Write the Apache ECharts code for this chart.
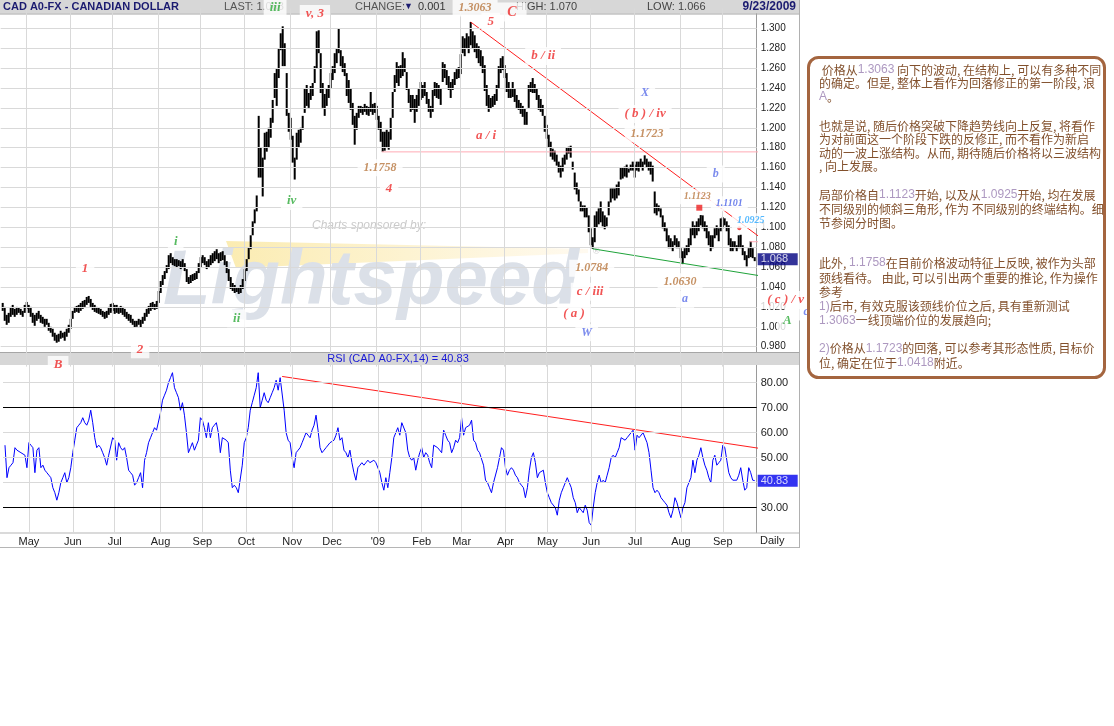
<!DOCTYPE html>
<html><head><meta charset="utf-8">
<script src="https://cdn.jsdelivr.net/npm/echarts@6/dist/echarts.min.js"></script>
<style>html,body{margin:0;padding:0;background:#fff}#c{width:1114px;height:726px}</style>
</head><body><div id="c"></div><script>
// ---- data: daily bars (trading-day index 0 = 2008-04-15 ... 376 = 2009-09-23)
const barLow=[1.016,1.006,1.002,1.004,1.010,1.012,1.010,1.012,1.014,1.012,
1.010,1.014,1.018,1.014,1.010,1.004,1.001,1.006,1.008,1.004,
1.003,1.000,1.002,0.996,0.994,0.990,0.986,0.984,0.985,0.988,
0.989,0.986,0.990,0.994,0.998,1.008,1.014,1.015,1.014,1.016,
1.018,1.020,1.022,1.024,1.020,1.017,1.015,1.014,1.013,1.012,
1.010,1.008,1.009,1.012,1.014,1.016,1.013,1.014,1.013,1.014,
1.012,1.010,1.008,1.006,1.004,1.002,0.999,1.000,1.002,0.999,
1.003,1.006,1.010,1.013,1.016,1.018,1.017,1.018,1.024,1.034,
1.042,1.048,1.054,1.058,1.064,1.062,1.061,1.060,1.061,1.058,
1.060,1.056,1.045,1.043,1.044,1.046,1.047,1.048,1.054,1.060,
1.064,1.062,1.058,1.060,1.062,1.064,1.066,1.068,1.064,1.066,
1.067,1.062,1.054,1.046,1.038,1.036,1.034,1.035,1.033,1.034,
1.038,1.046,1.056,1.068,1.078,1.092,1.104,1.116,1.150,1.150,
1.131,1.168,1.176,1.180,1.190,1.205,1.230,1.222,1.250,1.278,
1.262,1.262,1.212,1.196,1.188,1.165,1.148,1.168,1.180,1.185,
1.198,1.215,1.222,1.220,1.228,1.232,1.245,1.260,1.275,1.235,
1.220,1.212,1.222,1.230,1.240,1.248,1.255,1.265,1.275,1.262,
1.256,1.252,1.232,1.225,1.218,1.203,1.183,1.198,1.210,1.215,
1.213,1.216,1.213,1.212,1.216,1.213,1.215,1.208,1.198,1.186,
1.176,1.177,1.180,1.178,1.188,1.210,1.236,1.245,1.242,1.250,
1.252,1.256,1.238,1.225,1.216,1.218,1.205,1.216,1.222,1.228,
1.230,1.232,1.224,1.216,1.210,1.216,1.232,1.230,1.229,1.223,
1.246,1.250,1.243,1.238,1.230,1.238,1.243,1.249,1.250,1.254,
1.275,1.272,1.280,1.275,1.283,1.280,1.276,1.270,1.265,1.262,
1.255,1.237,1.222,1.216,1.219,1.221,1.223,1.227,1.240,1.255,
1.258,1.250,1.236,1.230,1.230,1.231,1.226,1.220,1.218,1.214,
1.211,1.203,1.203,1.220,1.236,1.235,1.235,1.228,1.218,1.216,
1.212,1.196,1.189,1.180,1.171,1.168,1.166,1.162,1.155,1.150,
1.156,1.163,1.168,1.174,1.170,1.158,1.138,1.133,1.126,1.116,
1.116,1.110,1.110,1.095,1.082,1.0784,1.085,1.100,1.103,1.105,
1.101,1.098,1.101,1.112,1.125,1.129,1.127,1.129,1.132,1.148,
1.149,1.151,1.150,1.155,1.157,1.157,1.150,1.157,1.156,1.160,
1.157,1.163,1.160,1.157,1.153,1.146,1.114,1.112,1.116,1.110,
1.099,1.096,1.086,1.079,1.079,1.076,1.082,1.079,1.079,1.069,
1.063,1.069,1.072,1.075,1.082,1.092,1.089,1.092,1.096,1.102,
1.099,1.096,1.089,1.082,1.076,1.079,1.089,1.092,1.086,1.096,
1.099,1.102,1.096,1.082,1.076,1.076,1.079,1.076,1.079,1.079,
1.072,1.067,1.0607,1.069,1.070,1.069,1.066];
const barHigh=[1.024,1.020,1.012,1.014,1.020,1.022,1.018,1.020,1.019,1.018,
1.016,1.022,1.025,1.022,1.020,1.014,1.012,1.014,1.016,1.012,
1.010,1.008,1.008,1.004,1.000,0.998,0.994,0.992,0.993,0.996,
0.994,0.995,0.998,1.002,1.008,1.016,1.020,1.021,1.022,1.024,
1.026,1.027,1.030,1.031,1.028,1.024,1.022,1.020,1.019,1.018,
1.016,1.015,1.016,1.020,1.023,1.024,1.022,1.022,1.020,1.021,
1.020,1.018,1.015,1.013,1.012,1.008,1.006,1.006,1.008,1.007,
1.010,1.014,1.018,1.021,1.024,1.025,1.023,1.026,1.036,1.046,
1.052,1.056,1.062,1.072,1.074,1.070,1.068,1.068,1.067,1.066,
1.068,1.064,1.058,1.050,1.052,1.053,1.054,1.056,1.064,1.070,
1.072,1.070,1.066,1.068,1.072,1.074,1.076,1.078,1.074,1.075,
1.076,1.072,1.066,1.058,1.050,1.044,1.042,1.040,1.040,1.042,
1.048,1.058,1.068,1.080,1.092,1.106,1.118,1.132,1.212,1.180,
1.170,1.195,1.196,1.200,1.210,1.228,1.255,1.260,1.280,1.295,
1.302,1.285,1.255,1.215,1.210,1.192,1.170,1.195,1.198,1.200,
1.212,1.240,1.243,1.235,1.242,1.245,1.262,1.297,1.298,1.275,
1.245,1.234,1.240,1.243,1.255,1.262,1.275,1.280,1.300,1.278,
1.272,1.265,1.255,1.248,1.240,1.225,1.212,1.215,1.222,1.222,
1.221,1.224,1.222,1.221,1.236,1.224,1.225,1.222,1.212,1.206,
1.196,1.196,1.198,1.196,1.210,1.236,1.253,1.266,1.262,1.263,
1.276,1.270,1.256,1.240,1.233,1.233,1.229,1.233,1.240,1.246,
1.243,1.246,1.236,1.229,1.222,1.238,1.246,1.245,1.243,1.240,
1.266,1.264,1.258,1.252,1.246,1.249,1.256,1.259,1.261,1.274,
1.292,1.290,1.295,1.292,1.3063,1.297,1.293,1.285,1.282,1.278,
1.272,1.263,1.243,1.233,1.230,1.232,1.234,1.243,1.262,1.270,
1.272,1.263,1.255,1.246,1.240,1.246,1.240,1.233,1.228,1.225,
1.222,1.219,1.216,1.243,1.246,1.250,1.244,1.240,1.233,1.229,
1.223,1.212,1.203,1.193,1.186,1.179,1.177,1.173,1.166,1.162,
1.170,1.173,1.180,1.181,1.182,1.166,1.155,1.145,1.138,1.126,
1.122,1.122,1.120,1.112,1.099,1.090,1.112,1.116,1.119,1.126,
1.116,1.112,1.110,1.126,1.139,1.139,1.139,1.143,1.146,1.160,
1.160,1.161,1.163,1.159,1.163,1.166,1.163,1.166,1.166,1.169,
1.166,1.1723,1.169,1.166,1.166,1.162,1.136,1.124,1.122,1.119,
1.112,1.105,1.099,1.092,1.089,1.086,1.092,1.089,1.086,1.079,
1.076,1.079,1.082,1.089,1.099,1.106,1.102,1.106,1.109,1.1123,
1.112,1.106,1.102,1.096,1.092,1.092,1.099,1.102,1.099,1.109,
1.1101,1.109,1.106,1.102,1.089,1.086,1.086,1.082,1.092,1.0925,
1.082,1.076,1.072,1.079,1.086,1.079,1.070];
const rsi=[55,42,46,47,48,54,53,53,52,52,
51,46,56,55,54,44,53,54,46,47,
45,44,43,42,38,36,33,36,40,42,
44,40,42,46,52,57,62,63,64,66,
64,63,65,69,64,58,54,55,54,52,
50,47,51,51,58,57,49,56,54,53,
54,50,45,44,43,39,40,42,44,38,
49,52,56,58,60,62,61,61,68,73,
75,77,80,82,84,78,76,74,69,72,
67,60,52,54,56,53,55,57,66,65,
62,58,64,58,62,63,64,60,52,58,
58,57,56,45,38,39,38,36,36,47,
56,58,62,69,72,75,78,84,70,73,
76,73,72,74,76,78,81,77,82,82,
69,60,57,56,50,46,52,53,54,56,
58,60,59,58,61,63,67,61,54,52,
53,54,54,56,56,57,59,62,57,58,
53,52,50,53,48,44,41,46,47,48,
47,48,49,48,48,49,48,48,44,40,
37,42,38,44,50,58,60,62,59,64,
64,60,53,50,49,50,45,49,52,54,
50,52,51,48,46,55,55,54,53,52,
61,59,57,56,52,54,57,56,58,66,
59,62,62,63,65,57,56,53,52,52,
47,41,40,38,36,40,40,46,50,54,
53,46,43,45,46,45,43,42,40,39,
38,34,38,45,50,52,48,42,44,44,
45,40,36,34,32,32,30,27,33,36,
38,40,42,40,38,34,32,28,30,29,
28,31,29,24,23,30,36,40,43,40,
41,40,43,46,50,51,50,52,54,58,
58,57,58,58,60,61,53,59,58,58,
60,60,56,52,45,38,36,37,36,34,
33,32,31,28,26,29,34,32,29,26,
30,32,38,40,42,49,44,49,51,54,
50,47,45,42,40,49,51,47,48,49,
55,54,49,44,42,41,41,41,43,46,
41,37,38,46,44,41,40.83];
const monthIdx=[12,34,55,78,99,121,144,164,187,209,229,251,272,294,316,339,360];
const monthNames=['May','Jun','Jul','Aug','Sep','Oct','Nov','Dec',"'09",'Feb','Mar','Apr','May','Jun','Jul','Aug','Sep'];
const priceTicks=[0.98,1.00,1.02,1.04,1.06,1.08,1.10,1.12,1.14,1.16,1.18,1.20,1.22,1.24,1.26,1.28,1.30];
const rsiGrayTicks=[40,50,60,80];
const rsiBoldTicks=[30,70];
const rsiLabelTicks=[30,50,60,70,80];
const lastPrice=1.068, lastRsi=40.83;
// trend lines (trading-day index, value)
const redTrend=[[234,1.3063],[402,1.055]];
const greenTrend=[[295,1.0784],[402,1.0437]];
const neckline=[[189.5,1.1758],[402.6,1.1758]];
const pinkShort=[[373.6,1.0855],[398,1.0855]];
const rsiTrend=[[139,82.5],[399.5,51.2]];
const squareMark=[[348.3,1.1197]];
const dotMark=[[368.3,1.099]];
// wave annotations
const waveText=['iii','v, 3','1.3063','C','5','b / ii','X','( b ) / iv','1.1723','a / i','b','1.1123','1.1101','1.0925','1.0784','c / iii','( a )','W','1.0630','a','( c ) / v','A','c','1','2','B','i','ii','iv','1.1758','4'];
const waveAt=[[136.2,1.3204],[156.1,1.3144],[236.2,1.3204],[254.6,1.3164],[244,1.3066],[270.2,1.2722],[321.2,1.2350],[321.2,1.2139],[322.2,1.1938],[241.7,1.1918],[356.5,1.1536],[347.3,1.1308],[363.3,1.1237],[374,1.1066],[294.5,1.0588],[293.7,1.0353],[285.7,1.0136],[292,0.9941],[338.7,1.0453],[341.2,1.0276],[391.5,1.0269],[392.3,1.0058],[401.7,1.0149],[41.2,1.0588],[68.7,0.9774],[27.7,0.9616],[86.5,1.0855],[117,1.0085],[144.5,1.1264],[188.7,1.1599],[193.2,1.1392]];
const waveKind=['g','r','n','rw','r','r','b','r','n','r','b','ns','bs','cs','n','r','r','b','n','b','r','g','b','r','r','r','g','g','g','n','r'];
const noteLines=[
' 价格从{n|1.3063} 向下的波动, 在结构上, 可以有多种不同',
'的确定。但是, 整体上看作为回落修正的第一阶段, 浪',
'{n|A}。',
'也就是说, 随后价格突破下降趋势线向上反复, 将看作',
'为对前面这一个阶段下跌的反修正, 而不看作为新启',
'动的一波上涨结构。从而, 期待随后价格将以三波结构',
', 向上发展。',
'局部价格自{n|1.1123}开始, 以及从{n|1.0925}开始, 均在发展',
'不同级别的倾斜三角形, 作为 不同级别的终端结构。细',
'节参阅分时图。',
'此外, {n|1.1758}在目前价格波动特征上反映, 被作为头部',
'颈线看待。 由此, 可以引出两个重要的推论, 作为操作',
'参考',
'{n|1)}后市, 有效克服该颈线价位之后, 具有重新测试',
'{n|1.3063}一线顶端价位的发展趋向;',
'{n|2)}价格从{n|1.1723}的回落, 可以参考其形态性质, 目标价',
'位, 确定在位于{n|1.0418}附近。'];

// ---- styles / layout
const noteY=[70,83.5,97,126,139.5,153,166.5,195,209,223,263,278,292,306.5,320.5,348.5,363];
const kindStyle={r:['#ee2a2a',13,[2,6]],rw:['#ee2a2a',14,[2,10]],g:['#2eaa3a',13,[2,6]],b:['#5a6ee8',12,[2,6]],n:['#b8773e',12,[2,6]],ns:['#b8773e',10,[2,5]],bs:['#4b63e6',10,[2,5]],cs:['#2aa7ff',10,[2,5]]};
const SANS='"Liberation Sans", Arial, sans-serif';
const SERIF='"Liberation Serif", "Times New Roman", serif';
const CJK='"Noto Sans CJK SC", sans-serif';
const monthMap={}; monthIdx.forEach((v,k)=>monthMap[v]=monthNames[k]);

const chart=echarts.init(document.getElementById('c'),null,{renderer:'canvas'});
const waveData=waveText.map((t,k)=>{const s=kindStyle[waveKind[k]];return {value:waveAt[k],label:{show:true,position:'inside',formatter:t,color:s[0],fontSize:s[1],lineHeight:s[1]+1,fontFamily:SERIF,fontStyle:'italic',fontWeight:'bold',backgroundColor:'#fff',padding:s[2]}};});
function line(data,color,xi,yi,z){return {type:'line',xAxisIndex:xi,yAxisIndex:yi,data:data,symbol:'none',clip:false,silent:true,z:z||4,lineStyle:{color:color,width:1},emphasis:{disabled:true}};}
const hdr=(x,text,opts)=>Object.assign({type:'text',x:x,y:7,z:6,silent:true,style:Object.assign({text:text,font:'11px '+SANS,fill:'#444',verticalAlign:'middle'},opts||{})});
const graphics=[
 {type:'rect',shape:{x:0,y:0,width:800,height:13.5},style:{fill:'#d7d7d7'},z:5,silent:true},
 {type:'line',shape:{x1:0,y1:14,x2:800,y2:14},style:{stroke:'#a6a6a6',lineWidth:1},z:5,silent:true},
 hdr(3,'CAD A0-FX - CANADIAN DOLLAR',{font:'bold 11px '+SANS,fill:'#1b1b70'}),
 hdr(224,'LAST: 1.068',{fill:'#555'}),
 hdr(355,'CHANGE:',{fill:'#555'}),
 hdr(404,'▼',{fill:'#1b1b70',font:'9px '+SANS}),
 hdr(418,'0.001',{fill:'#333'}),
 hdr(516,'HIGH: 1.070',{fill:'#444'}),
 hdr(647,'LOW: 1.066',{fill:'#444'}),
 hdr(796,'9/23/2009',{font:'bold 12px '+SANS,fill:'#1b1b70',align:'right'}),
 {type:'rect',shape:{x:0,y:352,width:800,height:13},style:{fill:'#d7d7d7'},z:5,silent:true},
 {type:'line',shape:{x1:0,y1:352.5,x2:800,y2:352.5},style:{stroke:'#a6a6a6',lineWidth:1},z:5,silent:true},
 {type:'text',x:398,y:359,z:6,silent:true,style:{text:'RSI (CAD A0-FX,14) = 40.83',font:'11px '+SANS,fill:'#1a1ad6',align:'center',verticalAlign:'middle'}},
 {type:'line',shape:{x1:0,y1:533,x2:800,y2:533},style:{stroke:'#b5b5b5',lineWidth:1},z:5,silent:true},
 {type:'line',shape:{x1:0,y1:547.5,x2:800,y2:547.5},style:{stroke:'#b5b5b5',lineWidth:1},z:5,silent:true},
 {type:'line',shape:{x1:799.5,y1:0,x2:799.5,y2:548},style:{stroke:'#b0b0b0',lineWidth:1},z:5,silent:true},
 {type:'text',x:760,y:541,z:6,silent:true,style:{text:'Daily',font:'11px '+SANS,fill:'#222',verticalAlign:'middle'}},
 {type:'polygon',z:2,silent:true,shape:{points:[[226,241],[588,249],[588,253],[236,268]]},style:{fill:new echarts.graphic.LinearGradient(0,0,1,0,[{offset:0,color:'#fbecb2'},{offset:1,color:'#fffaf0'}])}},
 {type:'text',x:163,y:243,z:2,silent:true,style:{text:'Lightspeed',font:'italic 900 78px '+SANS,fill:'#dbe0e8'}},
 {type:'text',x:312,y:226,z:2,silent:true,style:{text:'Charts sponsored by:',font:'italic 12px '+SANS,fill:'#cacaca',verticalAlign:'middle'}},
 {type:'text',x:593,y:252,z:2,silent:true,style:{text:'®',font:'9px '+SANS,fill:'#c8c8c8',verticalAlign:'middle'}},
 {type:'rect',z:10,silent:true,shape:{x:808.5,y:57.5,width:296,height:320,r:10},style:{fill:'#fff',stroke:'#a4653f',lineWidth:3}}
];
noteLines.forEach((t,k)=>graphics.push({type:'text',x:819,y:noteY[k],z:11,silent:true,style:{text:t,font:'12px '+CJK,fill:'#82502c',verticalAlign:'middle',rich:{n:{fill:'#ad98c0',font:'12px '+SANS}}}}));

const option={
 animation:false,backgroundColor:'#fff',
 grid:[{left:0.7,width:756,top:8.4,height:358.2},{left:0.7,width:756,top:365,height:167.7}],
 xAxis:[
  {gridIndex:0,type:'value',min:-1,max:377,show:false},
  {gridIndex:1,type:'value',min:-1,max:377,interval:1,axisLine:{show:false},axisTick:{show:false},splitLine:{show:false},
   axisLabel:{formatter:v=>monthMap[v]||'',color:'#222',fontSize:11,fontFamily:SANS,margin:4,showMinLabel:true,showMaxLabel:true}}
 ],
 yAxis:[
  {gridIndex:0,type:'value',position:'right',min:0.96,max:1.32,interval:0.02,axisLine:{show:true,onZero:false,lineStyle:{color:'#9a9a9a'}},axisTick:{show:false},splitLine:{show:false},
   axisLabel:{formatter:v=>(v<0.97||v>1.31)?'':v.toFixed(3),color:'#222',fontSize:10,fontFamily:SANS,margin:4}},
  {gridIndex:1,type:'value',position:'right',min:20,max:87.08,interval:10,axisLine:{show:true,onZero:false,lineStyle:{color:'#9a9a9a'}},axisTick:{show:false},splitLine:{show:false},
   axisLabel:{formatter:v=>rsiLabelTicks.indexOf(Math.round(v*100)/100)>=0?v.toFixed(2):'',color:'#222',fontSize:11,fontFamily:SANS,margin:4}}
 ],
 series:[
  {type:'line',xAxisIndex:0,yAxisIndex:0,data:[],z:1,silent:true,
   markLine:{silent:true,symbol:['none','none'],label:{show:false},animation:false,lineStyle:{color:'#d9d9d9',width:1,type:'solid'},
    data:priceTicks.map(v=>({yAxis:v})).concat(monthIdx.map(v=>({xAxis:v})))}},
  {type:'line',xAxisIndex:1,yAxisIndex:1,data:[],z:1,silent:true,
   markLine:{silent:true,symbol:['none','none'],label:{show:false},animation:false,lineStyle:{color:'#d9d9d9',width:1,type:'solid'},
    data:rsiGrayTicks.map(v=>({yAxis:v})).concat(monthIdx.map(v=>({xAxis:v}))).concat(rsiBoldTicks.map(v=>({yAxis:v,lineStyle:{color:'#000',width:1.2}})))}},
  {type:'custom',xAxisIndex:0,yAxisIndex:0,z:3,silent:true,encode:{x:0,y:[1,2]},
   data:barLow.map((lo,i)=>[i,lo,barHigh[i]]),
   renderItem:(p,api)=>{const a=api.coord([api.value(0),api.value(1)]),b=api.coord([api.value(0),api.value(2)]);
     return {type:'rect',shape:{x:a[0]-1,y:b[1],width:2,height:Math.max(1.5,a[1]-b[1])},style:{fill:'#000'}};}},
  line(neckline,'#ffaab4',0,0,4),
  line(pinkShort,'#ffaab4',0,0,4),
  line(redTrend,'#ff1e1e',0,0,4),
  line(greenTrend,'#1fa33a',0,0,4),
  {type:'scatter',xAxisIndex:0,yAxisIndex:0,data:squareMark,symbol:'rect',symbolSize:6,itemStyle:{color:'#ee2020'},z:5,silent:true,clip:false},
  {type:'scatter',xAxisIndex:0,yAxisIndex:0,data:dotMark,symbol:'circle',symbolSize:4,itemStyle:{color:'#ee2020'},z:5,silent:true,clip:false},
  {type:'line',xAxisIndex:1,yAxisIndex:1,data:rsi.map((v,i)=>[i,v]),symbol:'none',z:3,silent:true,lineStyle:{color:'#0000ff',width:1}},
  line(rsiTrend,'#ff1e1e',1,1,4),
  {type:'scatter',xAxisIndex:0,yAxisIndex:0,data:waveData,symbolSize:0,z:8,silent:true,clip:false,emphasis:{disabled:true}},
  {type:'scatter',xAxisIndex:0,yAxisIndex:0,data:[[377.5,lastPrice]],symbolSize:0,z:9,silent:true,clip:false,
   label:{show:true,position:'right',distance:0,formatter:()=>lastPrice.toFixed(3),backgroundColor:'#000080',color:'#fff',fontSize:11,fontFamily:SANS,padding:[1,3],width:34,lineHeight:10}},
  {type:'scatter',xAxisIndex:1,yAxisIndex:1,data:[[377.5,lastRsi]],symbolSize:0,z:9,silent:true,clip:false,
   label:{show:true,position:'right',distance:0,formatter:()=>lastRsi.toFixed(2),backgroundColor:'#0000ee',color:'#fff',fontSize:11,fontFamily:SANS,padding:[1,3],width:34,lineHeight:10}}
 ],
 graphic:graphics
};
chart.setOption(option);
</script></body></html>
